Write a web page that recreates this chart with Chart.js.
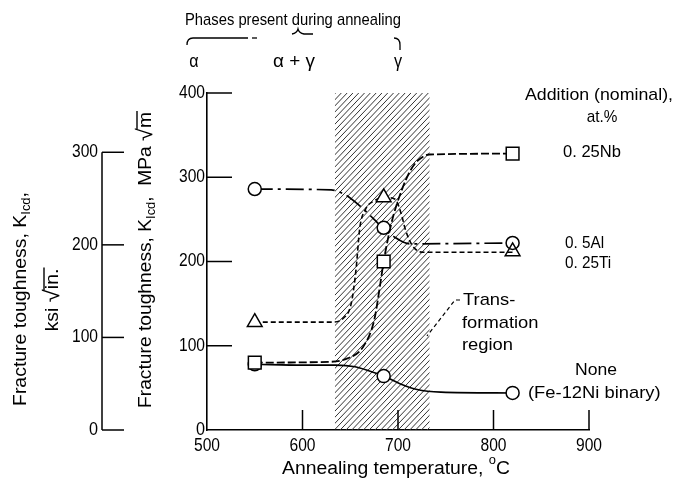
<!DOCTYPE html>
<html>
<head>
<meta charset="utf-8">
<script src="https://cdn.jsdelivr.net/npm/chart.js@4/dist/chart.umd.min.js"></script>
<style>
html,body{margin:0;padding:0;background:#fff;}
canvas{display:block;}
</style>
</head>
<body>
<canvas id="c" width="677" height="486"></canvas>
<script>
// ---- data ----
const xTicks = [500, 600, 700, 800, 900];
const yTicks = [0, 100, 200, 300, 400];
const ksiTicks = [0, 100, 200, 300];
const sampleTemps = [550, 685, 820];          // annealing temperature, C
const noneK = [78, 64, 44];                     // None (Fe-12Ni binary)
const nbK = [80, 200, 328];                     // 0.25Nb
const alK = [286, 240, 222];                    // 0.5Al
const tiK = [128, 276, 212];                    // 0.25Ti
// traced curves
const noneCurveT = [550, 600, 635, 655, 670, 685, 702, 720, 745, 820];
const noneCurveK = [78, 77, 77, 75, 70, 64, 55, 48, 45, 44];
const nbCurveT = [550, 630, 647, 663, 675, 681, 685, 693, 704, 713, 721, 733, 820];
const nbCurveK = [80, 81, 85, 98, 130, 170, 200, 245, 285, 308, 320, 327, 328];
const tiCurveT = [550, 630, 643, 651, 656, 660, 666, 675, 686, 697, 703, 708, 715, 726, 820];
const tiCurveK = [128, 128, 133, 150, 190, 240, 262, 272, 276, 274, 258, 237, 219, 211, 211];
const alCurveT = [550, 630, 645, 663, 675, 684, 695, 712, 820];
const alCurveK = [286, 285, 279, 263, 250, 240, 230, 221, 222];
const transRegion = [634, 733];  // hatched transformation region, C
const MPA_PER_KSI = 1.0988;

const FONT = "'Liberation Sans', Arial, sans-serif";
const pts = (t, k) => t.map((v, i) => ({x: v, y: k[i]}));

function lineDs(t, k, dash, w) {
  return {data: pts(t, k), borderColor: '#000', borderWidth: w || 1.6, borderDash: dash,
    pointRadius: 0, fill: false, cubicInterpolationMode: 'monotone', order: 3};
}
function markDs(k, style, r, order, fills) {
  return {data: pts(sampleTemps, k), showLine: false, pointStyle: style, pointRadius: r,
    pointBackgroundColor: fills || '#fff', pointBorderColor: '#000', pointBorderWidth: 1.5, order: order};
}

// draw text made of parts, squeezed towards a target width (within limits)
function rich(ctx, parts, x, y, width, opts) {
  opts = opts || {};
  ctx.save();
  ctx.translate(x, y);
  if (opts.rot) ctx.rotate(opts.rot);
  ctx.textBaseline = 'middle';
  ctx.textAlign = 'left';
  let total = 0;
  parts.forEach(p => { ctx.font = (p.size || 17) + 'px ' + FONT; p.w = ctx.measureText(p.t).width; total += p.w; });
  let sx = width ? width / total : 0.9;
  sx = Math.max(opts.lo || 0.8, Math.min(opts.hi || 1.08, sx));
  ctx.scale(sx, 1);
  let cx = opts.align === 'left' ? 0 : (opts.align === 'right' ? -total : -total / 2);
  parts.forEach(p => {
    ctx.font = (p.size || 17) + 'px ' + FONT;
    ctx.fillText(p.t, cx, p.dy || 0);
    if (p.over) {
      ctx.beginPath();
      ctx.lineWidth = 1.4;
      ctx.moveTo(cx - 1, -9); ctx.lineTo(cx + p.w + 1, -9);
      ctx.stroke();
    }
    cx += p.w;
  });
  ctx.restore();
}
const T = (s, size) => [{t: s, size: size}];

const decor = {
  id: 'decor',
  beforeDatasetsDraw(chart) {
    const {ctx, scales: {x, y}} = chart;
    const x0 = x.getPixelForValue(transRegion[0]), x1 = x.getPixelForValue(transRegion[1]);
    const yt = y.getPixelForValue(400), yb = y.getPixelForValue(0);
    ctx.save();
    ctx.beginPath(); ctx.rect(x0, yt, x1 - x0, yb - yt); ctx.clip();
    ctx.strokeStyle = '#333'; ctx.lineWidth = 1;
    const h = yb - yt;
    for (let s = x0 - h; s < x1 + 5; s += 5.8) {
      ctx.beginPath(); ctx.moveTo(s, yb); ctx.lineTo(s + h * 0.95, yt); ctx.stroke();
    }
    ctx.restore();
  },
  afterDraw(chart) {
    const {ctx, scales: {x, y}} = chart;
    ctx.save();
    ctx.strokeStyle = '#000'; ctx.fillStyle = '#000';
    // tick labels from the chart scales
    x.ticks.forEach(t => rich(ctx, T(String(t.value), 18), x.getPixelForValue(t.value), 446, 26));
    y.ticks.forEach(t => rich(ctx, T(String(t.value), 18), 205, y.getPixelForValue(t.value), t.value === 0 ? 9 : 26, {align: 'right'}));
    // inward ticks on main axes
    ctx.lineWidth = 1.5;
    const ax = x.getPixelForValue(500), ay = y.getPixelForValue(0);
    yTicks.slice(1).forEach(v => { const py = y.getPixelForValue(v); ctx.beginPath(); ctx.moveTo(ax, py); ctx.lineTo(ax + 25, py); ctx.stroke(); });
    xTicks.slice(1).forEach(v => { const px = x.getPixelForValue(v); ctx.beginPath(); ctx.moveTo(px, ay); ctx.lineTo(px, ay - 20); ctx.stroke(); });
    // secondary ksi axis
    const kx = 102;
    const kTop = y.getPixelForValue(300 * MPA_PER_KSI);
    ctx.beginPath(); ctx.moveTo(kx, ay); ctx.lineTo(kx, kTop); ctx.stroke();
    ksiTicks.forEach(v => {
      const py = y.getPixelForValue(v * MPA_PER_KSI);
      ctx.beginPath(); ctx.moveTo(kx, py); ctx.lineTo(kx + 22, py); ctx.stroke();
      rich(ctx, T(String(v), 18), kx - 4, py, v === 0 ? 9 : 26, {align: 'right'});
    });
    // axis titles
    const R = -Math.PI / 2;
    rich(ctx, [{t: 'Fracture toughness, K', size: 18}, {t: 'Icd', size: 12, dy: 6}, {t: ',  MPa ', size: 18}, {t: '√', size: 22}, {t: 'm', size: 18, over: true}], 146, 260, 296, {rot: R});
    rich(ctx, [{t: 'Fracture toughness, K', size: 18}, {t: 'Icd', size: 12, dy: 6}, {t: ',', size: 18}], 21, 299, 218, {rot: R});
    rich(ctx, [{t: 'ksi ', size: 18}, {t: '√', size: 22}, {t: 'in.', size: 18, over: true}], 53, 300, 80, {rot: R});
    rich(ctx, [{t: 'Annealing temperature, ', size: 18}, {t: 'o', size: 12, dy: -8}, {t: 'C', size: 18}], 396, 469, 228);
    // phases
    rich(ctx, T('Phases present during annealing', 17), 293, 20, 216, {lo: 0.86});
    rich(ctx, T('α', 18), 194, 62);
    rich(ctx, T('α + γ', 18), 294, 62, 42);
    rich(ctx, T('γ', 18), 398, 62);
    ctx.lineWidth = 1.3;
    ctx.beginPath(); ctx.moveTo(187, 45); ctx.quadraticCurveTo(187, 38, 193, 38); ctx.lineTo(248, 38); ctx.stroke();
    ctx.beginPath(); ctx.moveTo(252, 38); ctx.lineTo(257, 38); ctx.stroke();
    ctx.beginPath(); ctx.moveTo(292, 34); ctx.quadraticCurveTo(297, 33, 298, 29); ctx.quadraticCurveTo(299, 33, 304, 34); ctx.lineTo(313, 34); ctx.stroke();
    ctx.beginPath(); ctx.moveTo(394, 38); ctx.quadraticCurveTo(400, 38, 400, 45); ctx.lineTo(400, 50); ctx.stroke();
    // legend-like labels
    rich(ctx, T('Addition (nominal),'), 599, 95, 148);
    rich(ctx, T('at.%'), 602, 117);
    rich(ctx, T('0. 25Nb'), 563, 152, 58, {align: 'left'});
    rich(ctx, T('0. 5Al'), 565, 243, null, {align: 'left'});
    rich(ctx, T('0. 25Ti'), 565, 263, null, {align: 'left'});
    rich(ctx, T('None'), 596, 370, 42);
    rich(ctx, T('(Fe-12Ni binary)'), 528, 393, 134, {align: 'left'});
    rich(ctx, T('Trans-'), 463, 300, 54, {align: 'left'});
    rich(ctx, T('formation'), 462, 323, 78, {align: 'left'});
    rich(ctx, T('region'), 462, 345, 53, {align: 'left'});
    ctx.setLineDash([4, 3]); ctx.lineWidth = 1.2;
    ctx.beginPath(); ctx.moveTo(460, 300); ctx.lineTo(455, 300); ctx.lineTo(427, 336); ctx.stroke();
    ctx.restore();
  }
};

new Chart(document.getElementById('c'), {
  type: 'line',
  data: {
    datasets: [
      lineDs(noneCurveT, noneCurveK, [], 1.6),
      lineDs(nbCurveT, nbCurveK, [8, 3], 1.8),
      lineDs(tiCurveT, tiCurveK, [5, 3], 1.6),
      lineDs(alCurveT, alCurveK, [18, 5, 3, 5], 1.7),
      markDs(noneK, 'circle', 6.5, 2),
      markDs(nbK, 'rect', 9, 1),
      markDs(alK, 'circle', 6.5, 1),
      markDs(tiK, 'triangle', 8.5, 0, ['#fff', '#fff', 'rgba(255,255,255,0)'])
    ]
  },
  options: {
    responsive: false,
    animation: false,
    events: [],
    layout: {padding: {left: 0, right: 88, top: 93, bottom: 0}},
    plugins: {legend: {display: false}, tooltip: {enabled: false}},
    scales: {
      x: {
        type: 'linear', min: 500, max: 900,
        afterFit: s => { s.height = 56; },
        afterBuildTicks: s => { s.ticks = xTicks.map(v => ({value: v})); },
        grid: {display: false},
        border: {display: true, color: '#000', width: 1.6},
        ticks: {display: false}
      },
      y: {
        type: 'linear', min: 0, max: 400,
        afterFit: s => { s.width = 207; },
        afterBuildTicks: s => { s.ticks = yTicks.map(v => ({value: v})); },
        grid: {display: false},
        border: {display: true, color: '#000', width: 1.6},
        ticks: {display: false}
      }
    }
  },
  plugins: [decor]
});
</script>
</body>
</html>
